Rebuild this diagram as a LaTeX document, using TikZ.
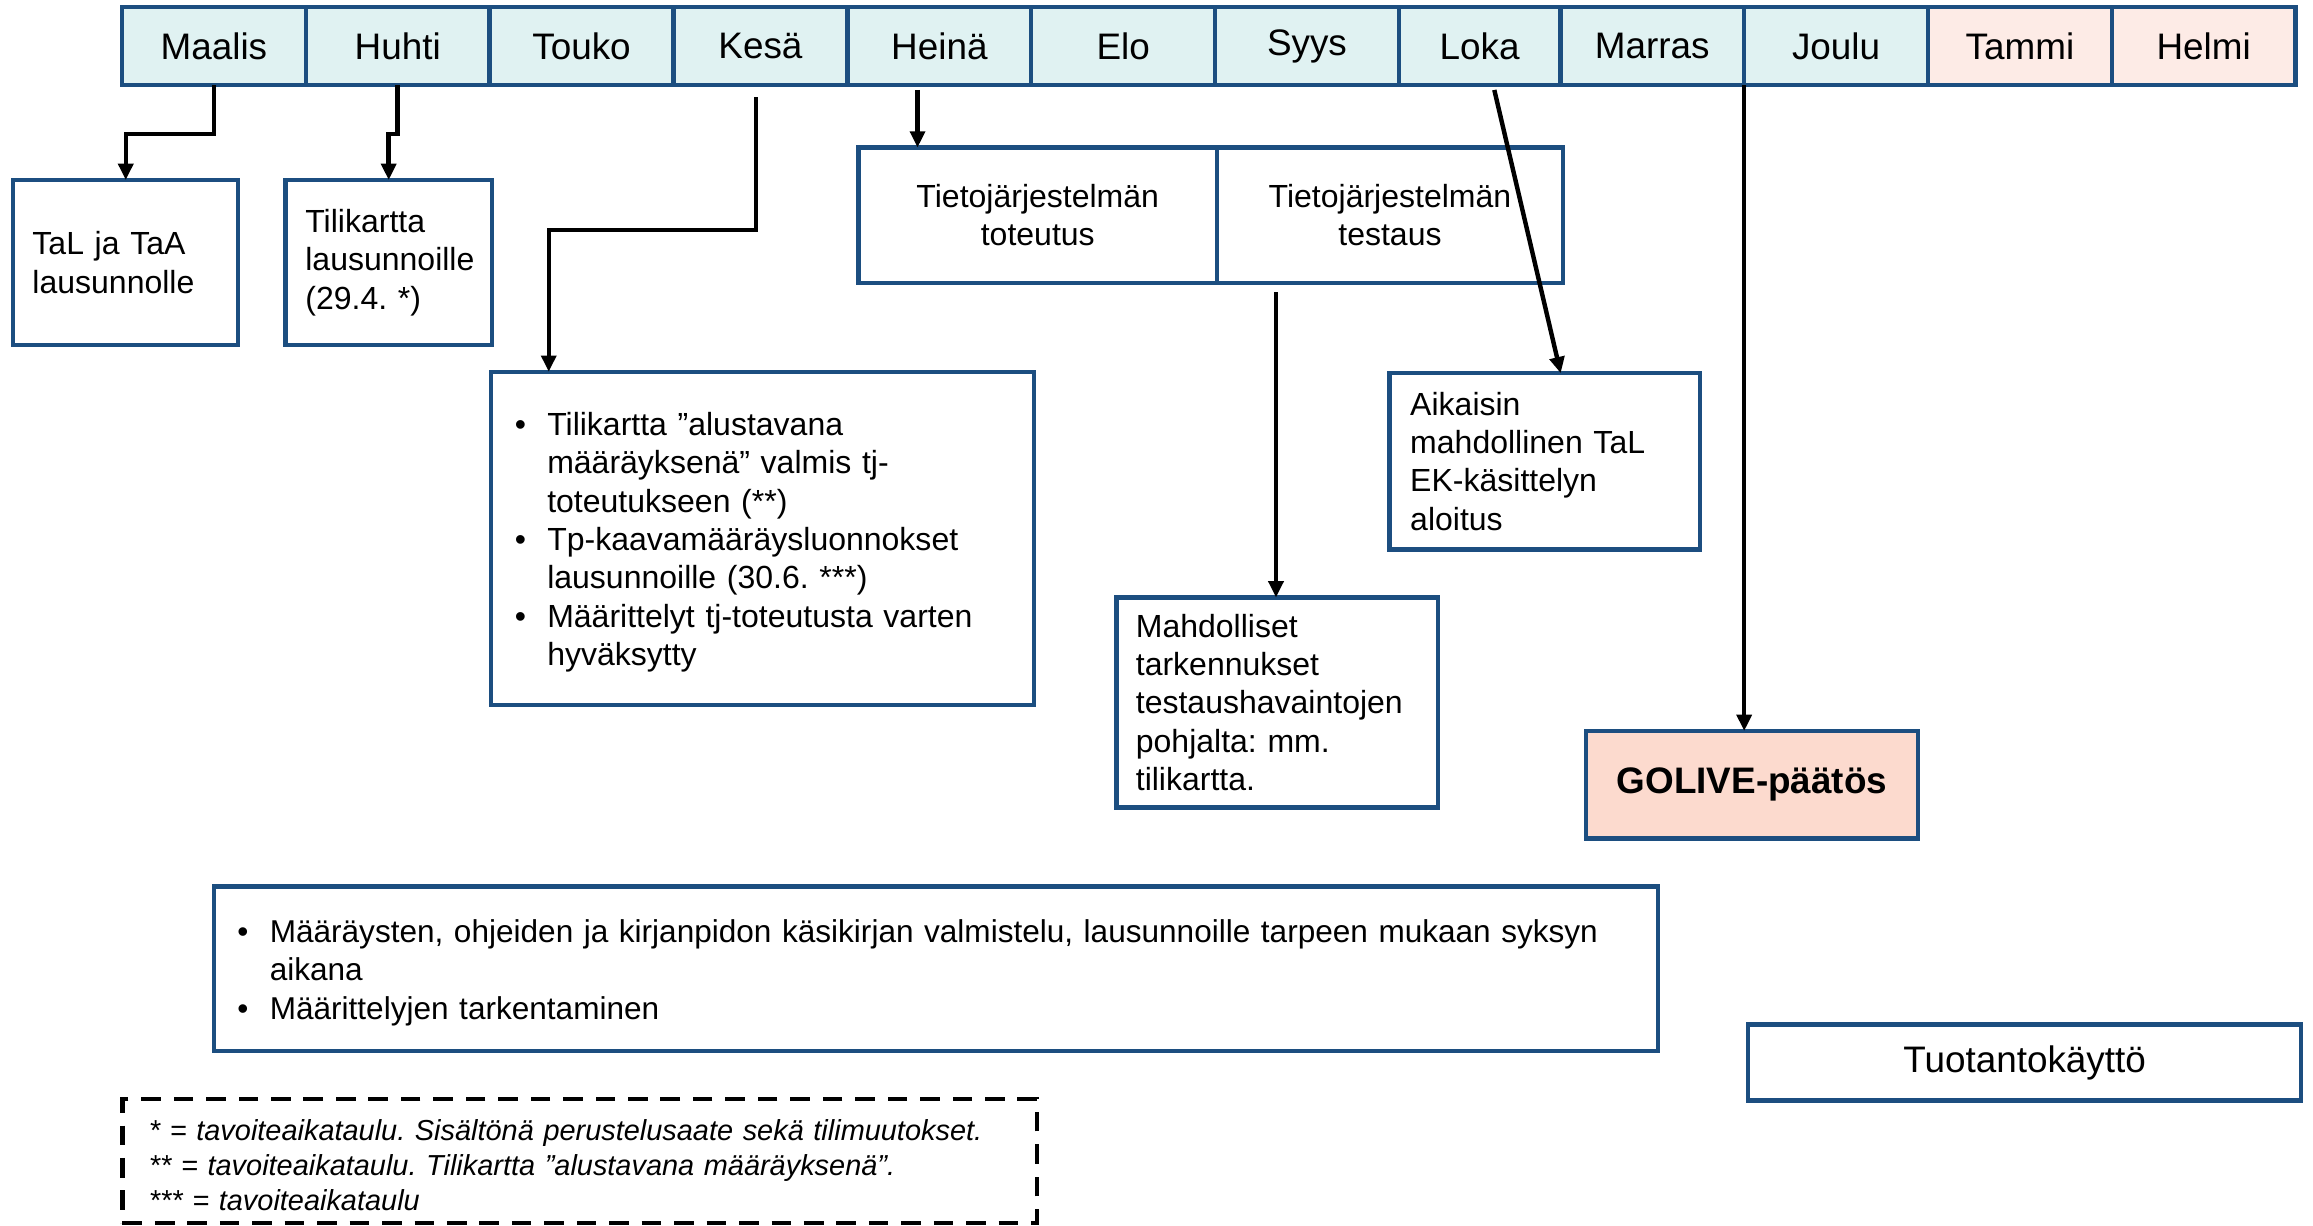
\documentclass[tikz,border=0pt]{standalone}
\usepackage{fontspec}
\setmainfont{Liberation Sans}
\usetikzlibrary{positioning,arrows.meta}

\definecolor{reuna}{RGB}{28,78,128}
\definecolor{kausi}{RGB}{224,242,242}
\definecolor{talvi}{RGB}{253,235,230}
\definecolor{lohi}{RGB}{252,218,206}

\begin{document}
\frenchspacing
\begin{tikzpicture}[x=1pt, y=-1pt, >={Triangle[length=11pt,width=10pt]},
    month/.style={draw=reuna, line width=3pt, fill=kausi, minimum width=124.6pt, minimum height=53pt, inner sep=0pt, outer sep=0pt, font=\fontsize{25}{30}\selectfont},
    laatikko/.style={draw=reuna, line width=3pt, inner ysep=0pt, outer sep=0pt, font=\fontsize{21.7}{26}\selectfont},
    nuoli/.style={->, line width=3pt}]
    \path[use as bounding box, fill=white] (0,0) rectangle (1568,831);

    % Months
    \node (maalis) [month, anchor=north west] at (82.7,4.7) {Maalis};
    \node (huhti) [month, right=0pt of maalis] {Huhti};
    \node (touko) [month, right=0pt of huhti] {Touko};
    \node (kesa) [month, minimum width=118pt, right=0pt of touko] {Kesä};
    \node (heina) [month, right=0pt of kesa] {Heinä};
    \node (elo) [month, right=0pt of heina] {Elo};
    \node (syys) [month, right=0pt of elo] {Syys};
    \node (loka) [month, minimum width=109.5pt, right=0pt of syys] {Loka};
    \node (marras) [month, right=0pt of loka] {Marras};
    \node (joulu) [month, right=0pt of marras] {Joulu};
    \node (tammi) [month, fill=talvi, right=0pt of joulu] {Tammi};
    \node (helmi) [month, fill=talvi, right=0pt of tammi] {Helmi};

    % Boxes
    \node (tal) [laatikko, text width=126.5pt, inner xsep=13pt, minimum height=112pt, align=left] at (85.25,178) {TaL ja TaA\\lausunnolle};
    \node (tili) [laatikko, text width=113pt, inner xsep=13.5pt, minimum height=112pt, align=left] at (263.5,178) {Tilikartta\\lausunnoille\\(29.4. *)};
    \node (toteutus) [laatikko, minimum width=243pt, minimum height=91.7pt, align=center] at (703.5,145.85) {Tietojärjestelmän\\toteutus};
    \node (testaus) [laatikko, minimum width=234.5pt, minimum height=91.7pt, align=center] at (942.25,145.85) {Tietojärjestelmän\\testaus};
    \node (lista) [laatikko, text width=336pt, inner xsep=16pt, minimum height=226pt, align=left] at (517,365) {%
      \raisebox{0pt}[\dimexpr\height+6pt\relax][\depth]{\begin{tabular}{@{}l@{\hspace{14.4pt}}l@{}}
        \textbullet & Tilikartta ”alustavana\\
                    & määräyksenä” valmis tj-\\
                    & toteutukseen (**)\\
        \textbullet & Tp-kaavamääräysluonnokset\\
                    & lausunnoille (30.6. ***)\\
        \textbullet & Määrittelyt tj-toteutusta varten\\
                    & hyväksytty
      \end{tabular}}};
    \node (aikaisin) [laatikko, text width=182.5pt, inner xsep=14pt, minimum height=119.5pt, align=left] at (1047.25,312.75) {Aikaisin\\mahdollinen TaL\\EK-käsittelyn\\aloitus};
    \node (mahd) [laatikko, text width=192pt, inner xsep=13pt, minimum height=142.5pt, align=left] at (866,476.25) {Mahdolliset\\tarkennukset\\testaushavaintojen\\pohjalta: mm.\\tilikartta.};
    \node (golive) [laatikko, fill=lohi, minimum width=225pt, minimum height=73pt, font=\fontsize{25}{30}\selectfont\bfseries] at (1187.7,532) {GOLIVE-päätös};
    \node (iso) [laatikko, text width=947pt, inner xsep=16pt, minimum height=111.5pt, align=left, font=\fontsize{21.4}{26}\selectfont] at (634.5,656.75) {%
      \raisebox{0pt}[\dimexpr\height+6pt\relax][\depth]{\begin{tabular}{@{}l@{\hspace{14.4pt}}l@{}}
        \textbullet & Määräysten, ohjeiden ja kirjanpidon käsikirjan valmistelu, lausunnoille tarpeen mukaan syksyn\\
                    & aikana\\
        \textbullet & Määrittelyjen tarkentaminen
      \end{tabular}}};
    \node (tuotanto) [laatikko, minimum width=375pt, minimum height=51.4pt, font=\fontsize{25}{30}\selectfont] at (1372.5,720.3) {Tuotantokäyttö};
    \node (huom) [draw, dash pattern=on 13.3pt off 8.7pt, line width=2.8pt, text width=584pt, inner xsep=18pt, inner ysep=0pt, outer sep=0pt, minimum height=84pt, align=left, font=\fontsize{19.6}{23.6}\selectfont\itshape] at (393,787) {%
      \raisebox{0pt}[\dimexpr\height+10pt\relax][\depth]{\begin{tabular}{@{}l@{}}
        * = tavoiteaikataulu. Sisältönä perustelusaate sekä tilimuutokset.\\
        {}** = tavoiteaikataulu. Tilikartta ”alustavana määräyksenä”.\\
        {}*** = tavoiteaikataulu
      \end{tabular}}};

    % Arrows
    \coordinate (kesaAlku) at (512.5,66);
    \coordinate (kesaMutka) at (372,156);
    \coordinate (heinaAlku) at (622,61);
    \coordinate (lokaAlku) at (1013,61);
    \coordinate (lokaLoppu) at (1058,0);
    \coordinate (testAlku) at (865,198);
    \draw[nuoli] (maalis.south) -- ++(0,33) -| (tal.north);
    \draw[nuoli] (huhti.south) -- ++(0,33) -| (tili.north);
    \draw[nuoli] (kesaAlku) |- (kesaMutka) -- (kesaMutka |- lista.north);
    \draw[nuoli] (heinaAlku) -- (heinaAlku |- toteutus.north);
    \draw[nuoli] (testAlku) -- (testAlku |- mahd.north);
    \draw[nuoli] (lokaAlku) -- (aikaisin.north -| lokaLoppu);
    \draw[nuoli] (joulu.south west) -- (joulu.south west |- golive.north);

\end{tikzpicture}
\end{document}
